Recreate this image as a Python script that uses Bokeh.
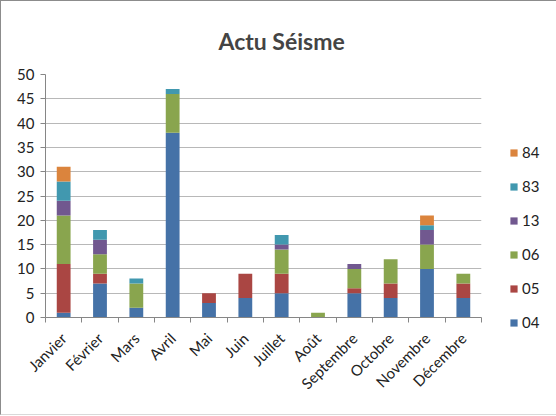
from bokeh.plotting import figure
from bokeh.models import (ColumnDataSource, Range1d, FixedTicker, Legend, LegendItem)
from bokeh.embed import file_html
from bokeh.resources import INLINE
import math

months = ["Janvier", "Février", "Mars", "Avril", "Mai", "Juin", "Juillet",
          "Août", "Septembre", "Octobre", "Novembre", "Décembre"]
series_names = ["04", "05", "06", "13", "83", "84"]
s04 = [1, 7, 2, 38, 3, 4, 5, 0, 5, 4, 10, 4]
s05 = [10, 2, 0, 0, 2, 5, 4, 0, 1, 3, 0, 3]
s06 = [10, 4, 5, 8, 0, 0, 5, 1, 4, 5, 5, 2]
s13 = [3, 3, 0, 0, 0, 0, 1, 0, 1, 0, 3, 0]
s83 = [4, 2, 1, 1, 0, 0, 2, 0, 0, 0, 1, 0]
s84 = [3, 0, 0, 0, 0, 0, 0, 0, 0, 0, 2, 0]
colors = ["#4572A7", "#AA4643", "#89A54E", "#71588F", "#4198AF", "#DB843D"]
y_ticks = [0, 5, 10, 15, 20, 25, 30, 35, 40, 45, 50]

FONT = "Lato"
xs = [i + 1 for i in range(len(months))]
data = {"x": xs}
for name, vals in zip(series_names, [s04, s05, s06, s13, s83, s84]):
    data[name] = vals
source = ColumnDataSource(data)

p = figure(frame_width=436, frame_height=243, output_backend="svg", toolbar_location=None,
           x_range=Range1d(0.5, len(months) + 0.5), y_range=Range1d(0, 50),
           min_border_left=44, min_border_right=66, min_border_top=73,
           min_border_bottom=97, title="Actu Séisme")
p.title.text_font = FONT
p.title.text_font_size = "23px"
p.title.text_font_style = "bold"
p.title.align = "left"
p.title.offset = 173
p.title.standoff = 40
p.outline_line_color = None
p.background_fill_color = "white"
p.border_fill_color = "white"
p.styles = {"border-left": "1px solid #8c8c8c", "border-top": "1px solid #8c8c8c",
            "border-bottom": "1px solid #d9d9d9"}

renderers = p.vbar_stack(series_names, x="x", width=0.38, color=colors,
                         line_color=None, source=source)

# axes
xt = FixedTicker(ticks=xs, minor_ticks=[i + 0.5 for i in range(len(months) + 1)])
p.xaxis.ticker = xt
p.xaxis.major_label_overrides = {x: m for x, m in zip(xs, months)}
p.xaxis.major_label_orientation = math.pi / 4
p.xaxis.major_tick_line_color = None
p.xaxis.minor_tick_out = 5
p.xaxis.minor_tick_in = 0
p.xaxis.minor_tick_line_color = "#868686"
p.xaxis.axis_line_color = "#868686"
p.xaxis.major_label_text_font = FONT
p.xaxis.major_label_text_font_size = "15px"
p.xaxis.major_label_text_color = "#222222"
p.xaxis.major_label_standoff = 12

p.yaxis.ticker = FixedTicker(ticks=y_ticks)
p.yaxis.major_tick_out = 5
p.yaxis.major_tick_in = 0
p.yaxis.minor_tick_line_color = None
p.yaxis.major_tick_line_color = "#868686"
p.yaxis.axis_line_color = "#868686"
p.yaxis.major_label_text_font = FONT
p.yaxis.major_label_text_font_size = "15px"
p.yaxis.major_label_text_color = "#222222"
p.yaxis.major_label_standoff = 6

p.xgrid.grid_line_color = None
p.ygrid.ticker = FixedTicker(ticks=y_ticks)
p.ygrid.grid_line_color = "#b8b8b8"
p.ygrid.grid_line_width = 1

items = [LegendItem(label=n, renderers=[r]) for n, r in zip(series_names, renderers)]
items = items[::-1]
legend = Legend(items=items, location=(28, -14), orientation="vertical",
                spacing=16, padding=0, margin=0,
                glyph_width=9, glyph_height=9, label_standoff=4,
                label_text_font=FONT, label_text_font_size="15px",
                label_text_color="#222222", border_line_color=None,
                background_fill_alpha=0)
p.add_layout(legend, "right")

open("out.html", "w").write(file_html(p, INLINE))
